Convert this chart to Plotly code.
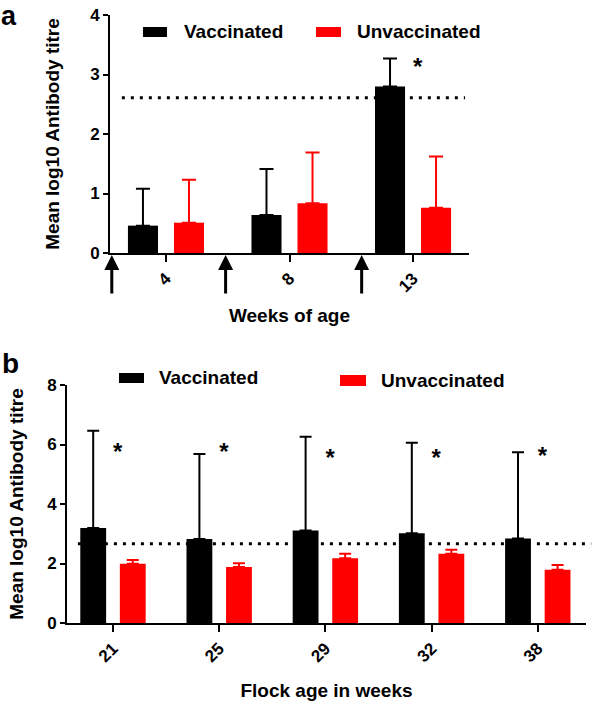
import plotly.graph_objects as go

# ---------- data: panel a ----------
weeks_a = ["4", "8", "13"]
vacc_a = [0.46, 0.64, 2.80]
vacc_a_sd = [0.62, 0.77, 0.47]
unvacc_a = [0.51, 0.835, 0.76]
unvacc_a_sd = [0.72, 0.855, 0.86]
threshold_a = 2.61
star_a_week = ["13"]
star_a_y = [3.1]

# ---------- data: panel b ----------
weeks_b = ["21", "25", "29", "32", "38"]
vacc_b = [3.19, 2.82, 3.11, 3.02, 2.84]
vacc_b_sd = [3.27, 2.86, 3.15, 3.04, 2.90]
unvacc_b = [1.99, 1.88, 2.18, 2.33, 1.79]
unvacc_b_sd = [0.13, 0.13, 0.15, 0.13, 0.16]
threshold_b = 2.66
star_b_week = ["21", "25", "29", "32", "38"]
star_b_y = [5.68, 5.68, 5.48, 5.48, 5.55]

FONT = "Liberation Sans, Arial, sans-serif"
BLACK = "#000000"
RED = "#ff0000"

W, H = 596, 701


def px_x(p):
    return p / W


def px_y(p):
    return 1 - p / H


fig = go.Figure()


def add_bars(x, y, sd, color, name, xa, ya, cap):
    fig.add_trace(go.Bar(
        x=x, y=y, name=name, marker=dict(color=color, line=dict(width=0)),
        error_y=dict(type="data", array=sd, arrayminus=[0] * len(sd),
                     symmetric=False, color=color, thickness=2, width=cap),
        xaxis=xa, yaxis=ya, showlegend=False,
    ))


add_bars(weeks_a, vacc_a, vacc_a_sd, BLACK, "Vaccinated", "x", "y", 7)
add_bars(weeks_a, unvacc_a, unvacc_a_sd, RED, "Unvaccinated", "x", "y", 7)
add_bars(weeks_b, vacc_b, vacc_b_sd, BLACK, "Vaccinated", "x2", "y2", 6)
add_bars(weeks_b, unvacc_b, unvacc_b_sd, RED, "Unvaccinated", "x2", "y2", 6)

starfont = dict(family=FONT, size=24, color=BLACK, weight="bold")
fig.add_trace(go.Scatter(x=star_a_week, y=star_a_y, mode="text", text=["*"] * len(star_a_week),
                         textposition="middle right", textfont=starfont, cliponaxis=False,
                         xaxis="x", yaxis="y", showlegend=False, hoverinfo="skip"))
fig.add_trace(go.Scatter(x=star_b_week, y=star_b_y, mode="text", text=["*"] * len(star_b_week),
                         textposition="middle right", textfont=starfont, cliponaxis=False,
                         xaxis="x2", yaxis="y2", showlegend=False, hoverinfo="skip"))

tickfont = dict(family=FONT, size=17, color=BLACK, weight="bold")
titlefont = dict(family=FONT, size=19, color=BLACK, weight="bold")

axis_common = dict(showline=True, linecolor=BLACK, linewidth=2, ticks="outside",
                   tickcolor=BLACK, tickwidth=2, showgrid=False, zeroline=False,
                   tickfont=tickfont, automargin=False)

fig.update_layout(
    width=W, height=H,
    margin=dict(l=0, r=0, t=0, b=0),
    paper_bgcolor="white", plot_bgcolor="white",
    barmode="group", bargap=0.255, bargroupgap=0.347,
    font=dict(family=FONT, color=BLACK),
    showlegend=False,
    xaxis=dict(domain=[px_x(110), px_x(469)], anchor="y", type="category",
               range=[-0.453, 2.453], ticklen=7, tickangle=-45,
               title=dict(text="Weeks of age", font=titlefont, standoff=14),
               **axis_common),
    yaxis=dict(domain=[px_y(253), px_y(15)], anchor="x", range=[0, 4], dtick=1,
               ticklen=5,
               title=dict(text="Mean log10 Antibody titre", font=titlefont, standoff=25),
               **axis_common),
    xaxis2=dict(domain=[px_x(67), px_x(586)], anchor="y2", type="category",
                range=[-0.433, 4.454], ticklen=7, tickangle=-45,
                title=dict(text="Flock age in weeks", font=titlefont, standoff=22),
                **axis_common),
    yaxis2=dict(domain=[px_y(623), px_y(385)], anchor="x2", range=[0, 8], dtick=2,
                ticklen=5,
                title=dict(text="Mean log10 Antibody titre", font=titlefont, standoff=18),
                **axis_common),
)

# threshold dotted lines
fig.add_shape(type="line", xref="x domain", yref="y", x0=0.033, x1=0.989,
              y0=threshold_a, y1=threshold_a, layer="below",
              line=dict(color=BLACK, width=3, dash="3px,6px"))
fig.add_shape(type="line", xref="x2 domain", yref="y2", x0=0.021, x1=1.01,
              y0=threshold_b, y1=threshold_b, layer="below",
              line=dict(color=BLACK, width=3, dash="3px,6px"))

# vaccination arrows
for xd in [0.005, 0.322, 0.701]:
    fig.add_annotation(x=xd, y=-0.008, xref="x domain", yref="y domain", text="",
                       showarrow=True, ax=0, ay=40, arrowhead=2, arrowwidth=3,
                       arrowsize=1, arrowcolor=BLACK)

# legends (wide rectangular keys like the original)
legfont = dict(family=FONT, size=19, color=BLACK, weight="bold")
legend_items = [
    # (x0, x1, y_top, y_bottom, colour, label, text_x, text_y)
    (143, 167, 27, 37, BLACK, "Vaccinated", 182, 31),
    (316, 341, 27, 37, RED, "Unvaccinated", 355, 31),
    (119, 144, 373, 383, BLACK, "Vaccinated", 157, 378),
    (340, 366, 375, 386, RED, "Unvaccinated", 379, 380),
]
for x0, x1, yt, yb, col, lab, tx, ty in legend_items:
    fig.add_shape(type="rect", xref="paper", yref="paper",
                  x0=px_x(x0), x1=px_x(x1), y0=px_y(yb), y1=px_y(yt),
                  fillcolor=col, line=dict(width=0))
    fig.add_annotation(x=px_x(tx), y=px_y(ty), xref="paper", yref="paper", text=lab,
                       showarrow=False, xanchor="left", yanchor="middle", font=legfont)

# panel labels
fig.add_annotation(x=px_x(0), y=px_y(0), xref="paper", yref="paper", text="a", showarrow=False,
                   xanchor="left", yanchor="top", borderpad=0,
                   font=dict(family=FONT, size=27, color=BLACK, weight="bold"))
fig.add_annotation(x=px_x(0), y=px_y(363), xref="paper", yref="paper", text="b", showarrow=False,
                   xanchor="left", yanchor="middle",
                   font=dict(family=FONT, size=28, color=BLACK, weight="bold"))

# remove the default page margin so the figure sits at the window's top-left corner
fig.write_html("out.html", config={"displayModeBar": False},
               post_script="document.body.style.margin='0';")
